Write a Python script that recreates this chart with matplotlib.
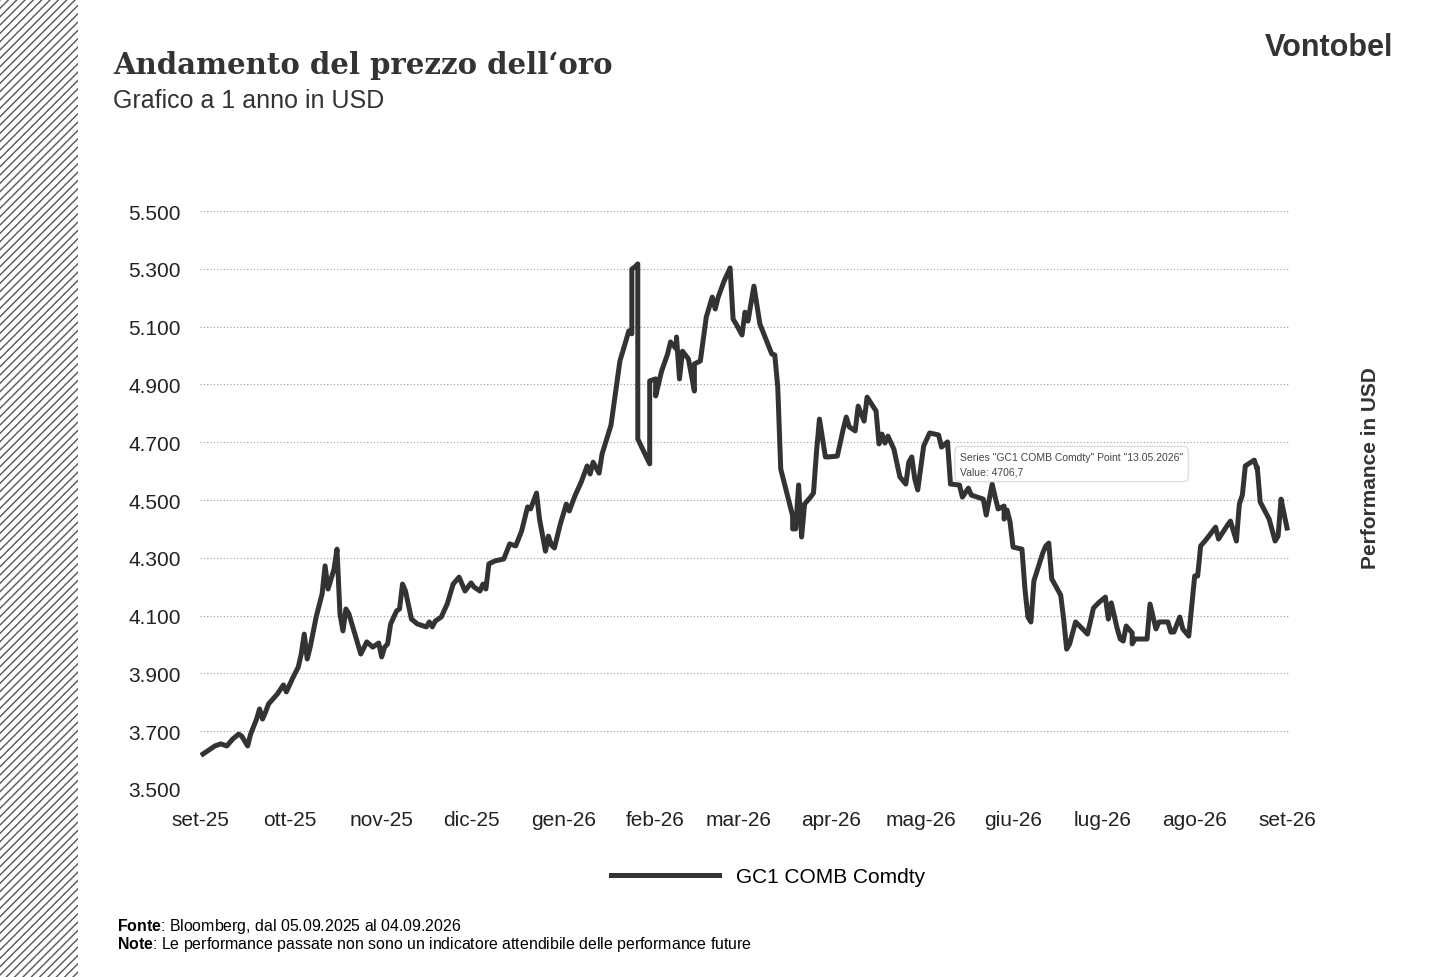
import matplotlib
matplotlib.use("Agg")
import matplotlib.pyplot as plt
from matplotlib.patches import Rectangle
from matplotlib.lines import Line2D
import numpy as np
import datetime as dt

plt.rcParams['font.family'] = ['Liberation Sans', 'DejaVu Sans']
plt.rcParams['mathtext.fontset'] = 'custom'
plt.rcParams['mathtext.rm'] = 'Liberation Sans'
plt.rcParams['mathtext.bf'] = 'Liberation Sans:bold'

start = dt.date(2025, 9, 5)
days = [0,4,6,8,10,12,13,15,16,18,19,20,21,22,25,27,28,30,32,33,34,35,36,38,40,41,42,44,45,46,47,48,49,52,53,55,57,59,60,61,62,63,65,66,67,68,70,72,75,76,77,78,80,82,84,86,88,90,91,93,94,95,96,98,101,103,105,107,109,110,112,113,115,116,117,118,120,122,123,125,127,129,130,131,133,134,137,140,143,144,144,145,146,146,150,150,152,152,154,156,157,159,159,160,161,163,165,165,167,168,169,171,172,173,174,175,177,178,179,181,182,183,185,187,189,191,192,193,194,198,198,199,200,201,202,204,205,206,207,209,210,213,215,216,217,219,220,222,223,226,227,228,229,230,232,234,236,237,238,239,240,242,244,247,248,250,251,254,255,257,258,260,262,263,265,266,267,269,269,270,271,272,275,276,277,278,279,282,283,284,285,288,289,290,291,293,296,297,299,301,303,304,305,307,308,309,310,312,312,313,317,318,320,321,324,325,326,328,329,331,333,334,335,337,340,341,344,345,347,348,349,350,353,354,354,355,358,360,361,362,363,364]
values = [3621,3649,3656,3649,3673,3690,3683,3649,3690,3742,3777,3742,3766,3794,3829,3860,3836,3881,3922,3967,4036,3950,3991,4095,4175,4272,4192,4261,4330,4106,4047,4123,4106,4002,3967,4009,3991,4005,3957,3991,4002,4071,4116,4123,4209,4185,4088,4071,4061,4078,4061,4081,4095,4140,4209,4233,4185,4213,4199,4185,4209,4192,4279,4289,4296,4348,4341,4393,4476,4469,4524,4434,4323,4375,4344,4334,4417,4486,4462,4517,4562,4618,4590,4631,4593,4659,4759,4981,5085,5075,5299,5306,5317,4711,4625,4912,4919,4860,4946,5005,5047,5022,5064,4919,5015,4988,4877,4971,4981,5057,5133,5202,5161,5202,5230,5258,5303,5126,5109,5071,5150,5119,5240,5109,5057,5005,5002,4891,4607,4445,4400,4400,4552,4372,4486,4510,4524,4666,4780,4649,4649,4652,4746,4787,4753,4739,4825,4773,4856,4808,4694,4728,4697,4721,4676,4580,4555,4631,4649,4573,4535,4687,4732,4725,4683,4701,4555,4552,4510,4541,4517,4510,4503,4448,4555,4510,4469,4479,4434,4465,4424,4337,4330,4192,4095,4078,4220,4317,4341,4351,4227,4171,4088,3984,4002,4078,4047,4036,4126,4147,4164,4088,4144,4054,4019,4012,4064,4040,4002,4019,4019,4140,4054,4078,4078,4043,4043,4095,4054,4029,4237,4237,4341,4365,4406,4365,4413,4427,4358,4486,4517,4618,4638,4607,4614,4493,4434,4358,4375,4503,4452,4403]
assert len(days) == len(values), (len(days), len(values))
month_labels = ["set-25","ott-25","nov-25","dic-25","gen-26","feb-26","mar-26","apr-26","mag-26","giu-26","lug-26","ago-26","set-26"]
series_name = "GC1 COMB Comdty"

dates = [start + dt.timedelta(days=d) for d in days]
tick_dates = [dt.date(2025 + (8 + i) // 12, (8 + i) % 12 + 1, 4) for i in range(13)]

fig = plt.figure(figsize=(14.32, 9.78), dpi=100)
fig.patch.set_facecolor("white")

fig.add_artist(Rectangle((0, 0), 78/1432, 1, transform=fig.transFigure, facecolor="white",
                         edgecolor="#555555", hatch="////", linewidth=0))

ax = fig.add_axes([200/1432, 188/978, 1090/1432, 578/978])
ax.plot(dates, values, color="#333333", lw=3.6, solid_joinstyle="round")
ax.set_ylim(3500, 5500)
ax.set_yticks(np.arange(3500, 5501, 200))
ax.set_yticklabels([f"{v:,}".replace(",", ".") for v in range(3500, 5501, 200)])
ax.set_xlim(dates[0] - dt.timedelta(days=1), dates[-1] + dt.timedelta(days=1))
ax.set_xticks(tick_dates)
ax.set_xticklabels(month_labels)
ax.grid(axis="y", linestyle=(0, (1, 2)), color="#999999", lw=0.8)
for s in ax.spines.values():
    s.set_visible(False)
ax.tick_params(length=0, labelsize=15, colors="#222222", pad=15)
ax.tick_params(axis="y", pad=14)

fig.text(1370/1432, 510/978, "Performance in USD", rotation=90, ha="center", va="center",
         fontsize=15, fontweight="bold", color="#333333")

fig.text(113/1432, 1 - 66/978, "Andamento del prezzo dell‘oro", fontsize=21, fontweight="bold",
         family="DejaVu Serif", color="#333333", va="center")
fig.text(113/1432, 1 - 101/978, "Grafico a 1 anno in USD", fontsize=18, color="#333333", va="center")
fig.text(1393/1432, 1 - 48/978, "Vontobel", fontsize=22, fontweight="bold", color="#333333",
         ha="right", va="center")

fig.text(960/1432, 1 - 465/978, 'Series "GC1 COMB Comdty" Point "13.05.2026"\nValue: 4706,7',
         fontsize=7.5, color="#444444", va="center", linespacing=1.6,
         bbox=dict(boxstyle="round,pad=0.5", fc="white", ec="#dddddd"))

leg_handle = Line2D([], [], color="#333333", lw=3.6)
fig.legend([leg_handle], [series_name], loc="center", bbox_to_anchor=(768/1432, 1 - 878/978),
           frameon=False, fontsize=15, handlelength=5.2, handletextpad=0.8)

fig.text(117/1432, 1 - 927/978, r"$\mathbf{Fonte}$: Bloomberg, dal 05.09.2025 al 04.09.2026", fontsize=11.4, va="center")
fig.text(117/1432, 1 - 945/978, r"$\mathbf{Note}$: Le performance passate non sono un indicatore attendibile delle performance future", fontsize=11.4, va="center")

fig.savefig("out.png", dpi=100)
